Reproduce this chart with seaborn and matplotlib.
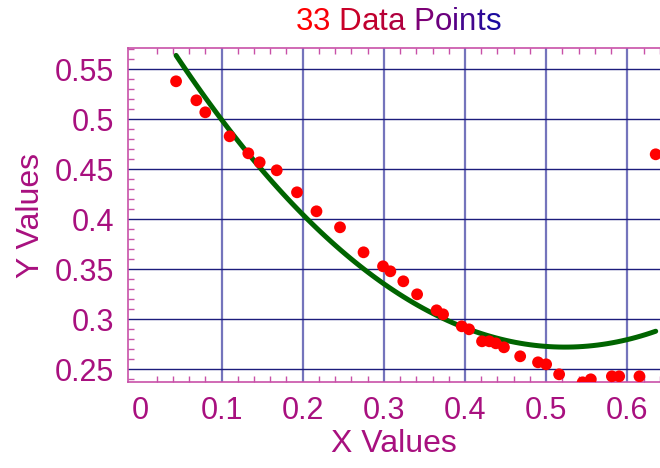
import numpy as np
import matplotlib
matplotlib.use('Agg')
import matplotlib.pyplot as plt
from matplotlib.ticker import MultipleLocator
from matplotlib.transforms import IdentityTransform
import seaborn as sns

# values
x_vals = [0.044, 0.069, 0.080, 0.110, 0.133, 0.147, 0.168, 0.193, 0.217, 0.246,
          0.275, 0.299, 0.308, 0.324, 0.341, 0.365, 0.373, 0.396, 0.405, 0.421,
          0.430, 0.438, 0.448, 0.468, 0.490, 0.500, 0.516, 0.545, 0.555, 0.581,
          0.590, 0.615, 0.635]
y_vals = [0.538, 0.519, 0.507, 0.483, 0.466, 0.457, 0.449, 0.427, 0.408, 0.392,
          0.367, 0.353, 0.348, 0.338, 0.325, 0.309, 0.305, 0.293, 0.290, 0.278,
          0.278, 0.276, 0.272, 0.263, 0.257, 0.255, 0.245, 0.237, 0.240, 0.243,
          0.243, 0.243, 0.465]

x_ticks = [0.0, 0.1, 0.2, 0.3, 0.4, 0.5, 0.6]
x_tick_labels = ['0', '0.1', '0.2', '0.3', '0.4', '0.5', '0.6']
y_ticks = [0.25, 0.30, 0.35, 0.40, 0.45, 0.50, 0.55]
y_tick_labels = ['0.25', '0.3', '0.35', '0.4', '0.45', '0.5', '0.55']

title_words = ['33', 'Data', 'Points']
title_colors = [['#ff0000', '#f80008'],
                ['#c80028', '#c0002e', '#b80036', '#b0003e'],
                ['#7c0076', '#6a007e', '#560086', '#42068e', '#2e0896', '#1a0a9e']]

TEXT_COLOR = '#a8107f'
SPINE_COLOR = '#c850a8'

sns.set_style('white')
plt.rcParams['font.family'] = ['Liberation Sans', 'DejaVu Sans']

fig = plt.figure(figsize=(6.6, 4.68), dpi=100)
ax = fig.add_axes([0.1935, 0.1831, 0.8065, 0.7137])

# quadratic fit through the points, as in the reference
sns.regplot(x=x_vals, y=y_vals, order=2, ci=None, scatter=False, ax=ax,
            line_kws=dict(color='#006400', lw=3.6, zorder=2))
sns.scatterplot(x=x_vals, y=y_vals, color='#ff0000', s=72, edgecolor='none',
                ax=ax, zorder=3)

ax.set_xlim(-0.0156, 0.6403)
ax.set_ylim(0.2370, 0.5710)
ax.set_xticks(x_ticks)
ax.set_xticklabels(x_tick_labels)
ax.set_yticks(y_ticks)
ax.set_yticklabels(y_tick_labels)
ax.xaxis.set_minor_locator(MultipleLocator(0.02))
ax.yaxis.set_minor_locator(MultipleLocator(0.01))

ax.xaxis.grid(True, which='major', color='#7474bc', lw=1.6, zorder=1)
ax.yaxis.grid(True, which='major', color='#1c1c7c', lw=1.0, zorder=1)
ax.set_axisbelow(True)
# no grid line at x = 0 in the original
ax.xaxis.get_major_ticks()[0].gridline.set_visible(False)

for side in ['left', 'bottom', 'top']:
    ax.spines[side].set_color(SPINE_COLOR)
    ax.spines[side].set_linewidth(1.2)
ax.spines['right'].set_visible(False)

ax.tick_params(which='both', direction='in', colors=SPINE_COLOR,
               top=True, bottom=True, left=True, right=False)
ax.tick_params(which='major', length=0)
ax.tick_params(which='minor', length=4, width=1)
ax.tick_params(axis='x', which='major', labelsize=22, labelcolor=TEXT_COLOR, pad=10)
ax.tick_params(axis='y', which='major', labelsize=22, labelcolor=TEXT_COLOR, pad=10)

ax.set_xlabel('X Values', fontsize=23, color=TEXT_COLOR, labelpad=2)
ax.set_ylabel('Y Values', fontsize=23, color=TEXT_COLOR, labelpad=6)

# multi-coloured title, drawn character by character
renderer = fig.canvas.get_renderer()
title_size = 22.5
pieces = []
for wi, (word, cols) in enumerate(zip(title_words, title_colors)):
    for ch, c in zip(word, cols):
        pieces.append((ch, c))
    if wi < len(title_words) - 1:
        pieces.append((' ', None))

probe = fig.text(0, 0, 'a a', fontsize=title_size)
probe2 = fig.text(0, 0, 'aa', fontsize=title_size)
space_w = probe.get_window_extent(renderer).width - probe2.get_window_extent(renderer).width
probe.remove()
probe2.remove()

texts = []
widths = []
for ch, c in pieces:
    if c is None:
        texts.append(None)
        widths.append(space_w)
        continue
    t = fig.text(0, 0, ch, fontsize=title_size, color=c, transform=IdentityTransform(),
                 va='baseline', ha='left')
    texts.append(t)
    widths.append(t.get_window_extent(renderer).width)

center_px = 398
x0 = center_px - sum(widths) / 2
base_y = fig.bbox.height - 30
for t, w in zip(texts, widths):
    if t is not None:
        t.set_position((x0, base_y))
    x0 += w

fig.savefig('out.png', dpi=100)
